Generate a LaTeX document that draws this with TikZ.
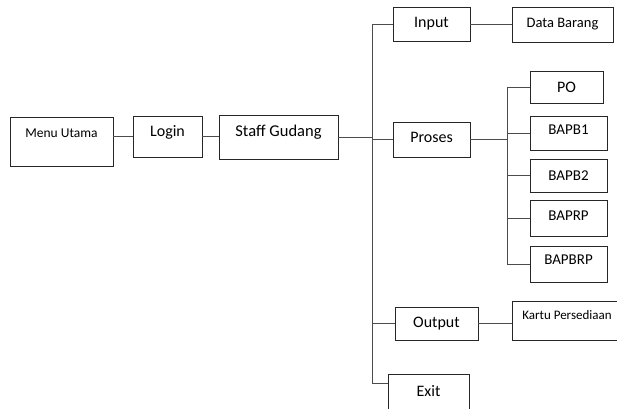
\documentclass[tikz,border=0pt]{standalone}
\usepackage{fontspec}
\setmainfont{Carlito}
\usetikzlibrary{positioning}

\begin{document}
\begin{tikzpicture}[x=1pt,y=-1pt,
    menubox/.style={draw=black!85,line width=0.9pt,inner sep=0pt,font=\fontsize{16}{19}\selectfont},
    smallbox/.style={menubox,font=\fontsize{13.5}{16}\selectfont},
    lift/.style={text depth=#1},
    link/.style={draw=black!70,line width=1pt}]
      \useasboundingbox (0,0) rectangle (617,408);

      \node[smallbox,lift=16pt,minimum width=103,minimum height=49] (menu) at (61.5,141.5) {Menu Utama};
      \node[menubox,lift=11pt,minimum width=69,minimum height=41] (login) at (167.5,136.5) {Login};
      \node[menubox,font=\fontsize{16.5}{19}\selectfont,lift=13pt,minimum width=119,minimum height=44] (staff) at (278.5,137) {Staff Gudang};

      \node[menubox,minimum width=77,minimum height=34] (input) at (431.5,24) {Input};
      \node[menubox,lift=5pt,minimum width=77,minimum height=35] (proses) at (431.5,139.5) {Proses};
      \node[menubox,minimum width=83,minimum height=33] (output) at (436.5,323.5) {Output};
      \node[menubox,lift=8pt,minimum width=81,minimum height=41] (exit) at (428.5,394.5) {Exit};

      \node[smallbox,font=\fontsize{14.5}{17}\selectfont,minimum width=101,minimum height=35] (data) at (562.5,24.5) {Data Barang};
      \node[menubox,minimum width=73,minimum height=32] (po) at (566.5,87) {PO};
      \node[menubox,font=\fontsize{15}{18}\selectfont,lift=6pt,minimum width=77,minimum height=34] (bapb1) at (568.5,133) {BAPB1};
      \node[menubox,font=\fontsize{15}{18}\selectfont,minimum width=77,minimum height=33] (bapb2) at (568.5,175.5) {BAPB2};
      \node[menubox,font=\fontsize{15}{18}\selectfont,lift=4pt,minimum width=77,minimum height=36] (baprp) at (568.5,218) {BAPRP};
      \node[menubox,font=\fontsize{15}{18}\selectfont,lift=8pt,minimum width=77,minimum height=36] (bapbrp) at (568.5,264) {BAPBRP};
      \node[menubox,minimum width=110,minimum height=39,
        label={[anchor=north,yshift=-6pt,font=\fontsize{13}{16}\selectfont]north:Kartu Persediaan}] (kartu) at (567,320.5) {};

      \coordinate (trunk) at (372,0);
      \coordinate (tb) at (372,383);
      \coordinate (sub) at (507,0);

      \draw[link] (menu.east |- login.west) -- (login.west);
      \draw[link] (login.east) -- (login.east -| staff.west);
      \draw[link] (staff.east) -- (staff.east -| trunk);
      \draw[link] (input.west) -| (tb) -- (tb -| exit.west);
      \draw[link] (proses.west) -- (proses.west -| trunk);
      \draw[link] (output.west) -- (output.west -| trunk);
      \draw[link] (input.east) -- (input.east -| data.west);
      \draw[link] (output.east) -- (output.east -| kartu.west);

      \draw[link] (proses.east) -- (proses.east -| sub);
      \draw[link] (po.west) -- (po.west -| sub) -- (bapbrp.west -| sub) -- (bapbrp.west);
      \foreach \b in {bapb1,bapb2,baprp}
        \draw[link] (\b.west) -- (\b.west -| sub);
\end{tikzpicture}
\end{document}
